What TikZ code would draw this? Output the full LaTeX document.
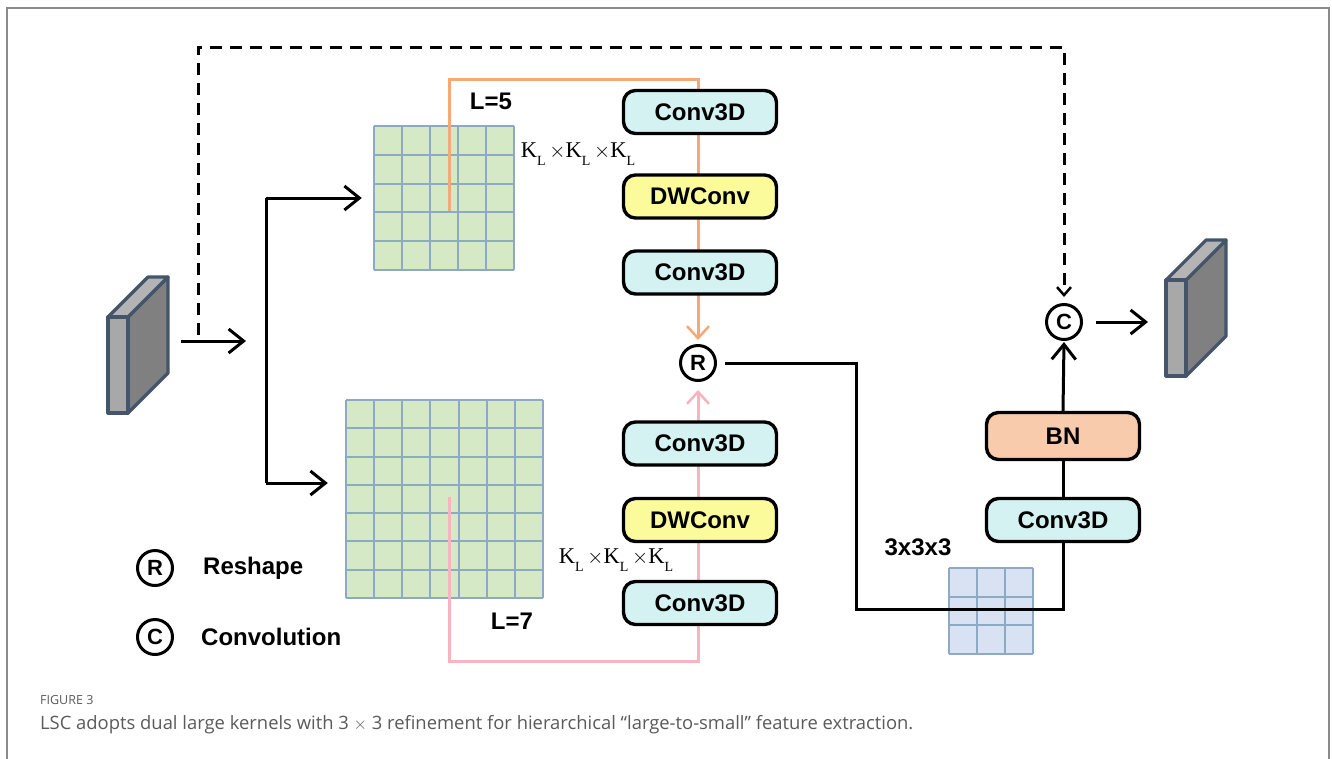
\documentclass[tikz,border=0pt]{standalone}
\usepackage{fontspec}
\usetikzlibrary{arrows.meta}
\newfontfamily\labelfont{Liberation Sans}
\newfontfamily\kernelfont{Liberation Serif}
\newfontfamily\captionfont{Open Sans}
\definecolor{cyanfill}{HTML}{D5F2F2}
\definecolor{yellowfill}{HTML}{FBFB9C}
\definecolor{bnfill}{HTML}{F8CBAD}
\definecolor{greencell}{HTML}{D6E9C6}
\definecolor{bluecell}{HTML}{D9E2F3}
\definecolor{cellline}{HTML}{8EA9C4}
\definecolor{orangewire}{HTML}{F5A878}
\definecolor{pinkwire}{HTML}{F4B4C0}
\definecolor{slabedge}{HTML}{44546A}
\definecolor{slabfront}{HTML}{A8A8A8}
\definecolor{slabtop}{HTML}{B4B4B4}
\definecolor{slabside}{HTML}{808080}
\definecolor{framegrey}{HTML}{8A8A8A}
\definecolor{captiongrey}{HTML}{5A5A5A}
\pgfdeclarelayer{grids}
\pgfdeclarelayer{wires}
\pgfsetlayers{grids,wires,main}
\newcommand\kernelK{K\raisebox{-0.35em}{\fontsize{14}{14}\selectfont L}}
\newcommand\featuremap[2]{%
  \begin{scope}[shift={(#1,#2)}, draw=slabedge, line width=3.2pt, line join=round]
    \filldraw[fill=slabside] (20,0) -- (60,-40) -- (60,56) -- (20,96) -- cycle;
    \filldraw[fill=slabtop] (0,0) -- (40,-40) -- (60,-40) -- (20,0) -- cycle;
    \filldraw[fill=slabfront] (0,0) rectangle (20,96);
  \end{scope}}
\tikzset{
  block/.style={draw, line width=3.4pt, rounded corners=12pt, minimum width=153pt,
    minimum height=43pt, inner sep=0pt, font=\labelfont\bfseries\fontsize{24}{28}\selectfont},
  convblock/.style={block, fill=cyanfill},
  dwblock/.style={block, fill=yellowfill},
  bnblock/.style={block, fill=bnfill, minimum height=47pt},
  opcircle/.style={draw, circle, line width=3pt, minimum size=35pt, inner sep=0pt,
    fill=white, font=\labelfont\bfseries\fontsize{22}{22}\selectfont},
  boldlabel/.style={font=\labelfont\bfseries\fontsize{24}{28}\selectfont, inner sep=0pt},
  kernellabel/.style={font=\kernelfont\fontsize{22.5}{26}\selectfont, inner sep=0pt},
  wire/.style={line width=3pt},
  openarrow/.style={-{Straight Barb[length=15pt,width=24pt,line width=3pt]}},
  smallarrow/.style={-{Straight Barb[length=8pt,width=14pt,line width=2.5pt]}},
  kernelbox/.style={minimum width=#1, inner sep=0pt},
  cellgrid/.style={draw=cellline, line width=2pt}
}
\begin{document}
\begin{tikzpicture}[x=1pt,y=-1pt]
\useasboundingbox (0,0) rectangle (1332,758);
\draw[framegrey, line width=2pt] (7,770) -- (7,8) -- (1329,8) -- (1329,770);

% feature maps
\featuremap{108}{317}
\featuremap{1166}{280}

% kernels
\node[kernelbox=140pt, minimum height=144pt] (k5) at (444,198) {};
\node[kernelbox=197pt, minimum height=198pt] (k7) at (444.5,499) {};
\node[kernelbox=84pt, minimum height=86pt] (k3) at (991,611) {};
\begin{pgfonlayer}{grids}
  \fill[greencell] (k5.north west) rectangle (k5.south east);
  \fill[greencell] (k7.north west) rectangle (k7.south east);
  \fill[bluecell] (k3.north west) rectangle (k3.south east);
  \foreach \i in {0,...,5} {
    \draw[cellgrid] (374+28*\i,126) -- (374+28*\i,270);
    \draw[cellgrid] (374,126+28.8*\i) -- (514,126+28.8*\i);
  }
  \foreach \i in {0,...,7} {
    \draw[cellgrid] (346+28.14*\i,400) -- (346+28.14*\i,598);
    \draw[cellgrid] (346,400+28.28*\i) -- (543,400+28.28*\i);
  }
  \foreach \i in {0,...,3} {
    \draw[cellgrid] (949+28*\i,568) -- (949+28*\i,654);
    \draw[cellgrid] (949,568+28.67*\i) -- (1033,568+28.67*\i);
  }
\end{pgfonlayer}

% blocks
\node[convblock] (c1) at (700,112) {Conv3D};
\node[dwblock] (d1) at (700,196.5) {DWConv};
\node[convblock] (c2) at (700,272.5) {Conv3D};
\node[convblock] (c3) at (700,443.5) {Conv3D};
\node[dwblock] (d2) at (700,520) {DWConv};
\node[convblock] (c4) at (700,603) {Conv3D};
\node[convblock] (cvR) at (1063,520) {Conv3D};
\node[bnblock] (bn) at (1063,436) {BN};
\node[opcircle] (rr) at (698,363) {R};
\node[opcircle] (cc) at (1064,322) {C};

% labels
\node[boldlabel] (l5) at (491,101) {L=5};
\node[boldlabel] (l7) at (512,621) {L=7};
\node[boldlabel] (l3) at (918,547) {3x3x3};
\node[kernellabel] (kt) at (578,154) {\kernelK\,$\times$\kernelK\,$\times$\kernelK};
\node[kernellabel] (kb) at (616,560) {\kernelK\,$\times$\kernelK\,$\times$\kernelK};

% legend
\node[opcircle] (legR) at (155,568) {R};
\node[boldlabel, anchor=west] (legRtxt) at (203,568) {Reshape};
\node[opcircle] (legC) at (155,637) {C};
\node[boldlabel, anchor=west] (legCtxt) at (201,637) {Convolution};

% caption
\node[anchor=west, inner sep=0pt, text=captiongrey, font=\captionfont\fontsize{12.5}{12.5}\selectfont] (figno) at (40,700) {FIGURE 3};
\node[anchor=west, inner sep=0pt, text=captiongrey, font=\captionfont\fontsize{18.4}{18.4}\selectfont] (figcap) at (40,725) {LSC adopts dual large kernels with 3 $\times$ 3 refinement for hierarchical “large-to-small” feature extraction.};

% connectors
\coordinate (xin) at (181,341);
\coordinate (xsplit) at (246,341);
\coordinate (b1) at (266,198);
\coordinate (b2) at (266,483);
\coordinate (skip) at (198,335);
\coordinate (skiptop) at (198,47);
\coordinate (o5) at (449,211);
\coordinate (o5top) at (449,79);
\coordinate (o7) at (449,497);
\coordinate (o7bot) at (449,661);
\coordinate (kink) at (856,609);
\coordinate (yout) at (1148,322);
\begin{pgfonlayer}{wires}
  \draw[wire, openarrow] (xin) -- (xsplit);
  \draw[wire] (b1) -- (b2);
  \draw[wire, openarrow, shorten >=12pt] (b1) -- (b1 -| k5.west);
  \draw[wire, openarrow, shorten >=18pt] (b2) -- (b2 -| k7.west);
  \draw[line width=3pt, dash pattern=on 12pt off 8pt, smallarrow, shorten >=6pt] (skip) -- (skiptop) -| (cc.north);
  \draw[orangewire, line width=3pt, -{Straight Barb[length=12pt,width=22pt,line width=2.5pt]}, shorten >=4pt] (o5) -- (o5top) -| (rr.north);
  \draw[pinkwire, line width=3pt, -{Straight Barb[length=12pt,width=22pt,line width=2.5pt]}, shorten >=8pt] (o7) -- (o7bot) -| (rr.south);
  \draw[wire, shorten <=8pt] (rr.east) -| (kink) -| (cvR.south);
  \draw[wire] (cvR.north) -- (bn.south);
  \draw[wire, openarrow, shorten >=1pt] (bn.north) -- (cc.south);
  \draw[wire, openarrow, shorten <=13pt] (cc.east) -- (yout);
\end{pgfonlayer}
\end{tikzpicture}
\end{document}
